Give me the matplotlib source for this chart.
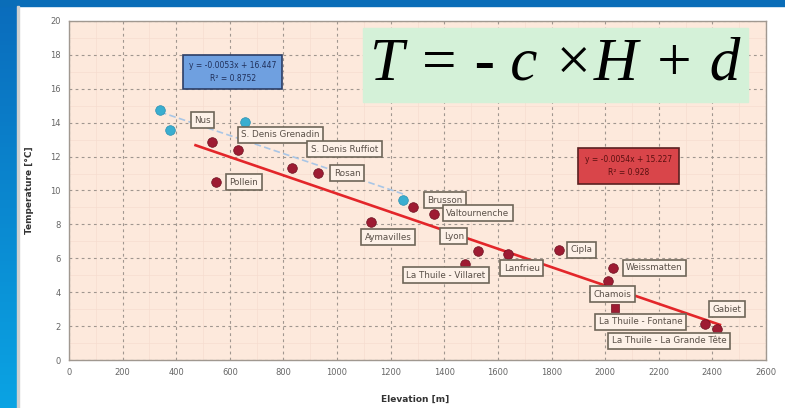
import numpy as np
import matplotlib.pyplot as plt
from matplotlib.patches import Rectangle
from matplotlib.colors import LinearSegmentedColormap

# station data
red_names = ['Nus', 'S. Denis Grenadin', 'Pollein', 'S. Denis Ruffiot', 'Rosan',
             'Aymavilles', 'Brusson', 'Valtournenche', 'Lyon', 'La Thuile - Villaret',
             'Lanfrieu', 'Cipla', 'Weissmatten', 'Chamois', 'La Thuile - Fontane',
             'Gabiet', 'La Thuile - La Grande Tête']
red_elev = [532, 632, 547, 830, 930, 1128, 1283, 1361, 1525, 1477,
            1637, 1827, 2031, 2009, 2035, 2374, 2418]
red_temp = [12.86, 12.39, 10.5, 11.3, 11.03, 8.14, 9.0, 8.6, 6.43, 5.66,
            6.25, 6.49, 5.43, 4.66, 3.07, 2.12, 1.83]

blue_elev = [339, 376, 658, 1246]
blue_temp = [14.75, 13.57, 14.05, 9.44]

x_ticks = list(range(0, 2601, 200))
y_ticks = list(range(0, 21, 2))

# label offsets in pixels (layout only)
offsets = [(-9, 22), (42, 15), (28, 0), (53, 19), (29, 0),
           (17, -15), (32, 7), (44, 1), (-24, 15), (-19, -11),
           (14, -14), (23, 0), (41, 0), (5, -13), (26, -14),
           (22, 15), (-48, -12)]

fig = plt.figure(figsize=(7.85, 4.08), dpi=100, facecolor='white')

# slide frame
bar = fig.add_axes([0, 0, 17 / 785, 1])
grad = np.linspace(0, 1, 100).reshape(-1, 1)
cm = LinearSegmentedColormap.from_list('slide', ['#0aa3e3', '#0a6cbc'])
bar.imshow(grad, aspect='auto', cmap=cm, origin='lower', extent=[0, 1, 0, 1])
bar.axis('off')
fig.patches.append(Rectangle((0, 402 / 408), 1, 6 / 408, transform=fig.transFigure,
                             color='#0a6db8', zorder=5))
fig.patches.append(Rectangle((17 / 785, 0), 2 / 785, 402 / 408, transform=fig.transFigure,
                             color='#d0d0d0', zorder=5))

ax = fig.add_axes([69 / 785, 48 / 408, 697 / 785, 339 / 408])
ax.set_facecolor('#fde9dc')
ax.set_xlim(0, 2600)
ax.set_ylim(0, 20)
ax.set_xticks(x_ticks)
ax.set_yticks(y_ticks)
ax.set_xticks(np.arange(100, 2600, 200), minor=True)
ax.set_yticks(np.arange(1, 20, 2), minor=True)
ax.grid(True, which='major', color='#a0968f', linestyle=(0, (2.5, 3)), linewidth=0.8)
ax.grid(True, which='minor', color='#f6ddd0', linestyle='-', linewidth=0.5)
ax.tick_params(which='both', length=0, labelsize=6, labelcolor='#666666', pad=6)
for s in ax.spines.values():
    s.set_color('#a09890')
    s.set_linewidth(1.0)
ax.set_axisbelow(True)

# trendlines
rb, ra = np.polyfit(red_elev, red_temp, 1)
bb, ba = np.polyfit(blue_elev, blue_temp, 1)
rx = np.array([min(red_elev) - 60, max(red_elev) + 10])
bx = np.array([min(blue_elev), max(blue_elev)])
ax.plot(bx, bb * bx + ba, color='#a9c6e6', linestyle=(0, (4, 2)), linewidth=1.2, zorder=3)
ax.plot(rx, rb * rx + ra, color='#e3262a', linewidth=1.9, zorder=4)

ax.scatter(blue_elev, blue_temp, s=48, color='#3aaed0', edgecolor='#2a8fb0', linewidth=0.5, zorder=5)
markers = ['o'] * len(red_elev)
markers[red_names.index('La Thuile - Fontane')] = 's'
for x, y, m in zip(red_elev, red_temp, markers):
    ax.scatter(x, y, s=48 if m == 'o' else 34, marker=m, color='#9e1b32',
               edgecolor='#6a1020', linewidth=0.5, zorder=5)

for name, x, y, off in zip(red_names, red_elev, red_temp, offsets):
    ax.annotate(name, (x, y), xytext=off, textcoords='offset pixels', ha='center', va='center',
                fontsize=6.3, color='#5a5048', zorder=6,
                bbox=dict(boxstyle='square,pad=0.4', facecolor='#fdf1e8', edgecolor='#6f6658',
                          linewidth=1.2))

r2_red = np.corrcoef(red_elev, red_temp)[0, 1] ** 2
r2_blue = np.corrcoef(blue_elev, blue_temp)[0, 1] ** 2
ax.text(611, 17.0, f'y = {bb:.4f}x + {ba:.3f}\nR² = {r2_blue:.4f}', ha='center', va='center',
        fontsize=5.5, color='#20305a', linespacing=1.6, zorder=6,
        bbox=dict(boxstyle='square,pad=0.75', facecolor='#6fa0e0', edgecolor='#2c3e66', linewidth=1.2))
ax.text(2087, 11.45, f'y = {rb:.4f}x + {ra:.3f}\nR² = {r2_red:.3f}', ha='center', va='center',
        fontsize=5.5, color='#5a1010', linespacing=1.6, zorder=6,
        bbox=dict(boxstyle='square,pad=0.95', facecolor='#d9454a', edgecolor='#5a2020', linewidth=1.2))

fig.text(30 / 785, 1 - 190 / 408, 'Temperature [°C]', rotation=90, ha='center', va='center',
         fontsize=6.5, color='#333333', fontweight='bold')
fig.text(415 / 785, 1 - 399 / 408, 'Elevation [m]', ha='center', va='center',
         fontsize=6.5, color='#333333', fontweight='bold')

# formula box
fig.patches.append(Rectangle((363 / 785, 306 / 408), 385 / 785, 74 / 408, transform=fig.transFigure,
                             color='#d4f1d8', zorder=10))
fig.text(555 / 785, 1 - 65 / 408, 'T = - c ×H + d', ha='center', va='center', fontsize=44,
         family='Liberation Serif', style='italic', color='black', zorder=11)

fig.savefig('out.png', dpi=100)
